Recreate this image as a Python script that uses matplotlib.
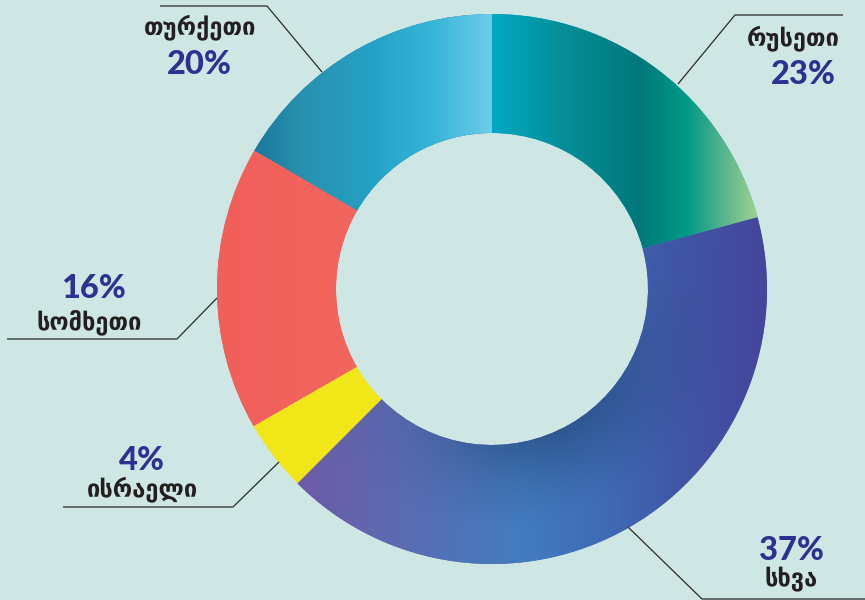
import numpy as np
import matplotlib
matplotlib.use("Agg")
import matplotlib.pyplot as plt
from matplotlib.colors import LinearSegmentedColormap

# ── Data ──────────────────────────────────────────────────────────────────────
countries  = ["რუსეთი", "სხვა", "ისრაელი", "სომხეთი", "თურქეთი"]
pct_labels = ["23%", "37%", "4%", "16%", "20%"]
shares     = [20.8, 41.7, 4.2, 16.7, 16.6]   # wedge sizes as drawn

BG       = "#cfe7e4"
PCT_COL  = "#2e3192"
TEXT_COL = "#231f20"

# gradient stops per wedge: (x pixel, colour); a single stop = flat colour
GRADS = [
    [(492, "#00a8c4"), (560, "#068f9a"), (640, "#00787a"), (688, "#009a86"),
     (722, "#52b28c"), (760, "#a4d490")],
    [(297, "#6e5aa6"), (400, "#5b6cb3"), (520, "#437cc0"), (600, "#3f6cb6"),
     (680, "#4156a6"), (767, "#45469c")],
    [(0, "#f0e618")],
    [(217, "#f15f5b"), (360, "#f2665f")],
    [(253, "#17799a"), (300, "#2a8fae"), (370, "#24a2c6"), (430, "#34b4d8"),
     (492, "#6ecce9")],
]

CX, CY   = 492, 311      # centre in pixel coords (y up)
R_OUT    = 275
R_IN     = 156

fig = plt.figure(figsize=(8.65, 6.0), dpi=100, facecolor=BG)
ax = fig.add_axes([0, 0, 1, 1])
ax.set_facecolor(BG)

wedges, _ = ax.pie(
    shares, startangle=90, counterclock=False, center=(CX, CY), radius=R_OUT,
    colors=[g[0][1] for g in GRADS],
    wedgeprops=dict(width=R_OUT - R_IN, linewidth=0),
)
ax.set_xlim(0, 865)
ax.set_ylim(0, 600)
ax.set_aspect("equal")
ax.axis("off")

# horizontal gradient fills clipped to each wedge
xs = np.linspace(CX - R_OUT, CX + R_OUT, 600)
extent = (CX - R_OUT, CX + R_OUT, CY - R_OUT, CY + R_OUT)
for w, stops in zip(wedges, GRADS):
    if len(stops) < 2:
        continue
    px = np.array([s[0] for s in stops], dtype=float)
    pos = (px - px[0]) / (px[-1] - px[0])
    cmap = LinearSegmentedColormap.from_list("g", list(zip(pos, [s[1] for s in stops])))
    vals = np.clip((xs - px[0]) / (px[-1] - px[0]), 0, 1)
    im = ax.imshow(vals[None, :], cmap=cmap, vmin=0, vmax=1, extent=extent,
                   aspect="auto", origin="lower", interpolation="bilinear", zorder=2)
    im.set_clip_path(w)

# soft shadow along the inner edge of the large wedge
gy, gx = np.mgrid[CY - R_OUT:CY + R_OUT:400j, CX - R_OUT:CX + R_OUT:400j]
rr = np.hypot(gx - CX, gy - CY)
th = np.degrees(np.arctan2(gy - CY, gx - CX))
fade = np.clip(1 - (rr - R_IN) / 85, 0, 1) ** 1.4
ang = np.exp(-((th + 65) / 48) ** 2)
shade = np.zeros(rr.shape + (4,))
shade[..., 0:3] = np.array([0x1c, 0x3a, 0x66]) / 255
shade[..., 3] = 0.5 * fade * ang
sh = ax.imshow(shade, extent=extent, origin="lower", aspect="auto",
               interpolation="bilinear", zorder=3)
sh.set_clip_path(wedges[1])

# ── Labels & leader lines (pixel coords, y measured from top) ────────────────
def Y(y):
    return 600 - y

LINES = [
    [(678, 84), (735, 15), (843, 15)],
    [(628, 527), (702, 599), (865, 599)],
    [(279, 462), (233, 507), (63, 507)],
    [(217, 298), (177, 339), (7, 339)],
    [(322, 72), (267, 6), (160, 6)],
]
# (name x, name y, pct x, pct y)
POS = [
    (793, 38, 803, 74),
    (791, 579, 792, 551),
    (143, 489, 142, 460),
    (89, 322, 93, 289),
    (200, 27, 199, 64),
]

for pts in LINES:
    ax.plot([p[0] for p in pts], [Y(p[1]) for p in pts], color="#2a2a2a",
            lw=0.9, zorder=4, solid_capstyle="butt")

for name, pct, (nx, ny, px_, py_) in zip(countries, pct_labels, POS):
    ax.text(nx, Y(ny), name, ha="center", va="center", fontsize=17,
            fontweight="bold", color=TEXT_COL, family="DejaVu Sans", zorder=5)
    ax.text(px_, Y(py_), pct, ha="center", va="center", fontsize=23.5,
            fontweight="black", color=PCT_COL, family="Lato", zorder=5)

fig.savefig("out.png", dpi=100, facecolor=BG)
